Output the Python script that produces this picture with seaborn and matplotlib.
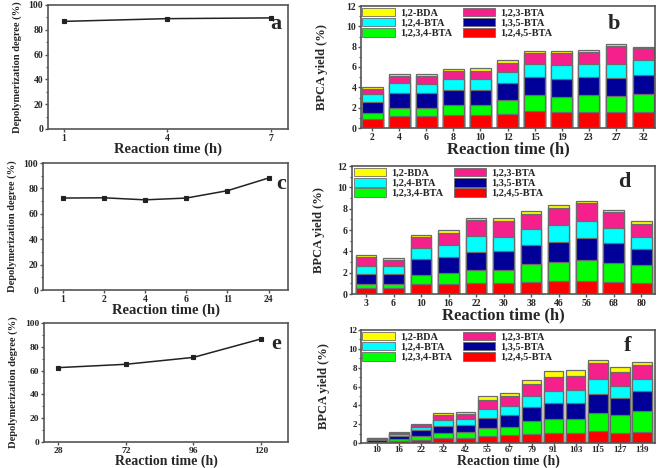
import numpy as np
import pandas as pd
import matplotlib
matplotlib.use("Agg")
import matplotlib.pyplot as plt
import matplotlib.patches as mpatches
from matplotlib.ticker import MultipleLocator
import seaborn as sns

# ---------------- data ----------------
time_a = ["1", "4", "7"]
depol_a = [86.8, 89.0, 89.6]

time_c = ["1", "2", "4", "6", "11", "24"]
depol_c = [72.4, 72.6, 71.0, 72.4, 78.2, 88.2]

time_e = ["28", "72", "96", "120"]
depol_e = [62.5, 65.3, 71.1, 86.6]

series_names = ["1,2,4,5-BTA", "1,2,3,4-BTA", "1,3,5-BTA", "1,2,4-BTA", "1,2,3-BTA", "1,2-BDA"]
series_colors = ["#FF0000", "#00FF00", "#000099", "#00FFFF", "#F5208C", "#FFFF00"]

time_b = ["2", "4", "6", "8", "10", "12", "15", "19", "23", "27", "32"]
b_1245 = [0.85, 1.15, 1.15, 1.25, 1.25, 1.40, 1.70, 1.60, 1.60, 1.55, 1.55]
b_1234 = [0.60, 0.80, 0.85, 1.00, 1.05, 1.35, 1.55, 1.45, 1.65, 1.55, 1.80]
b_135 = [1.15, 1.45, 1.40, 1.45, 1.45, 1.65, 1.80, 1.80, 1.75, 1.80, 1.90]
b_124 = [0.75, 1.00, 0.95, 1.10, 1.10, 1.15, 1.25, 1.30, 1.30, 1.40, 1.40]
b_123 = [0.50, 0.70, 0.75, 0.80, 0.75, 0.85, 1.05, 1.25, 1.15, 1.75, 1.20]
b_12 = [0.15, 0.25, 0.25, 0.25, 0.30, 0.25, 0.20, 0.20, 0.25, 0.20, 0.15]

time_d = ["3", "6", "10", "16", "22", "30", "38", "46", "56", "68", "80"]
d_1245 = [0.55, 0.55, 0.90, 0.95, 1.05, 1.05, 1.15, 1.20, 1.20, 1.10, 1.00]
d_1234 = [0.40, 0.40, 0.90, 1.00, 1.20, 1.20, 1.65, 1.80, 2.00, 1.85, 1.70]
d_135 = [0.95, 0.95, 1.45, 1.55, 1.70, 1.75, 1.80, 1.85, 2.05, 1.85, 1.55]
d_124 = [0.75, 0.75, 1.05, 1.10, 1.45, 1.35, 1.45, 1.60, 1.55, 1.35, 1.05]
d_123 = [0.85, 0.55, 1.05, 1.15, 1.50, 1.50, 1.45, 1.60, 1.75, 1.55, 1.25]
d_12 = [0.12, 0.15, 0.20, 0.25, 0.25, 0.30, 0.30, 0.30, 0.20, 0.20, 0.25]

time_f = ["10", "16", "22", "32", "42", "55", "67", "79", "91", "103", "115", "127", "139"]
f_1245 = [0.03, 0.20, 0.35, 0.50, 0.55, 0.70, 0.80, 0.95, 1.05, 1.10, 1.25, 1.10, 1.15]
f_1234 = [0.05, 0.20, 0.40, 0.55, 0.60, 0.85, 0.95, 1.35, 1.50, 1.50, 1.95, 1.85, 2.25]
f_135 = [0.22, 0.35, 0.60, 0.80, 0.80, 1.15, 1.20, 1.50, 1.70, 1.70, 2.00, 1.80, 2.10]
f_124 = [0.10, 0.20, 0.40, 0.60, 0.60, 0.95, 1.00, 1.15, 1.30, 1.35, 1.55, 1.30, 1.30]
f_123 = [0.12, 0.10, 0.20, 0.50, 0.55, 0.95, 1.00, 1.35, 1.45, 1.45, 1.70, 1.50, 1.50]
f_12 = [0.03, 0.10, 0.10, 0.20, 0.20, 0.40, 0.40, 0.40, 0.60, 0.60, 0.40, 0.55, 0.30]

# ---------------- style ----------------
sns.set_style("ticks")
plt.rcParams["font.family"] = ["Liberation Serif", "DejaVu Serif"]
plt.rcParams["font.weight"] = "bold"
plt.rcParams["axes.labelweight"] = "bold"

W, H = 661, 468
fig = plt.figure(figsize=(W / 100, H / 100), dpi=100)


def add_ax(l, r, t, b):
    return fig.add_axes([l / W, 1 - b / H, (r - l) / W, (b - t) / H])


SPINE = "#555555"


def style_axes(ax, labelsize, ticklen, pad):
    for s in ax.spines.values():
        s.set_color(SPINE)
        s.set_linewidth(1.2)
    ax.tick_params(axis="both", which="major", direction="out", length=ticklen, width=1,
                   color=SPINE, labelsize=labelsize, pad=pad)
    ax.tick_params(axis="both", which="minor", direction="out", length=1.8, width=0.8, color=SPINE)
    ax.tick_params(axis="x", which="minor", bottom=False)
    for lab in ax.get_xticklabels() + ax.get_yticklabels():
        lab.set_fontweight("bold")


def line_panel(ax, times, vals, xlim, letter, letter_xy, ylab_x, xlab_y, xlab_size, tsize):
    df = pd.DataFrame({"t": times, "v": vals})
    sns.pointplot(data=df, x="t", y="v", order=times, color="#222222", markers="s",
                  markersize=3.2, linewidth=1.1, ax=ax)
    ax.set_ylim(0, 100)
    ax.set_xlim(*xlim)
    ax.yaxis.set_major_locator(MultipleLocator(20))
    ax.yaxis.set_minor_locator(MultipleLocator(10))
    style_axes(ax, tsize, 2.5, 1)
    ax.set_ylabel("Depolymerization degree (%)", fontsize=7.6, fontweight="bold")
    ax.yaxis.set_label_coords(ylab_x, 0.5)
    ax.set_xlabel("Reaction time (h)", fontsize=xlab_size, fontweight="bold")
    ax.xaxis.set_label_coords(0.5, xlab_y)
    ax.text(*letter_xy, letter, transform=ax.transAxes, fontsize=16, fontweight="bold",
            ha="center", va="center")


def bar_panel(ax, times, comps, width, xlim, letter, letter_xy, ylab_x, xlab_y, xlab_size,
              tsize, tlen, tpad):
    cum = np.cumsum(np.array(comps), axis=0)
    for i in range(len(comps) - 1, -1, -1):
        df = pd.DataFrame({"t": times, "v": cum[i]})
        sns.barplot(data=df, x="t", y="v", order=times, color=series_colors[i],
                    saturation=1, width=width, edgecolor="#6b6b6b", linewidth=0.9, ax=ax)
    ax.set_ylim(0, 12)
    ax.set_xlim(*xlim)
    ax.yaxis.set_major_locator(MultipleLocator(2))
    ax.yaxis.set_minor_locator(MultipleLocator(1))
    style_axes(ax, tsize, tlen, tpad)
    ax.set_ylabel("BPCA yield (%)", fontsize=9, fontweight="bold")
    ax.yaxis.set_label_coords(ylab_x, 0.5)
    ax.set_xlabel("Reaction time (h)", fontsize=xlab_size, fontweight="bold")
    ax.xaxis.set_label_coords(0.5, xlab_y)
    order = [5, 3, 1, 4, 2, 0]
    handles = [mpatches.Patch(facecolor=series_colors[i], edgecolor="#6b6b6b", linewidth=0.6)
               for i in order]
    labels = [series_names[i] for i in order]
    ax.legend(handles, labels, ncol=2, loc="upper left", bbox_to_anchor=(0.005, 0.985),
              frameon=False, prop={"family": "Liberation Serif", "weight": "bold", "size": 7.5},
              handlelength=3.1, handleheight=0.85, labelspacing=0.05, columnspacing=1.0,
              handletextpad=0.5, borderpad=0, borderaxespad=0)
    ax.text(*letter_xy, letter, transform=ax.transAxes, fontsize=16, fontweight="bold",
            ha="center", va="center")


ax_a = add_ax(48, 288, 5, 129)
line_panel(ax_a, time_a, depol_a, (-0.155, 2.165), "a", ((276 - 48) / 240, 1 - (24 - 5) / 124),
           -0.108, -(142.5 - 129) / 124, 10.5, 7)

ax_c = add_ax(43, 288, 163, 290)
line_panel(ax_c, time_c, depol_c, (-0.48, 5.47), "c", ((281 - 43) / 245, 1 - (184 - 163) / 127),
           -0.106, -(303.5 - 290) / 127, 10.5, 7)

ax_e = add_ax(44, 288, 323, 442)
line_panel(ax_e, time_e, depol_e, (-0.21, 3.40), "e", ((276 - 44) / 244, 1 - (344 - 323) / 119),
           -0.107, -(454.5 - 442) / 119, 10, 6.8)

ax_b = add_ax(361, 655, 6, 128)
bar_panel(ax_b, time_b, [b_1245, b_1234, b_135, b_124, b_123, b_12], 0.77,
          (-0.41, 10.44), "b", ((614 - 361) / 294, 1 - (24 - 6) / 122), -0.112,
          -(141.5 - 128) / 122, 12, 7, 2.5, 1)

ax_d = add_ax(352, 655, 166, 294)
bar_panel(ax_d, time_d, [d_1245, d_1234, d_135, d_124, d_123, d_12], 0.75,
          (-0.51, 10.50), "d", ((624 - 352) / 303, 1 - (182 - 166) / 128), -0.089,
          -(307.5 - 294) / 128, 12, 7, 2.5, 1)

ax_f = add_ax(361, 655, 330, 443)
bar_panel(ax_f, time_f, [f_1245, f_1234, f_135, f_124, f_123, f_12], 0.88,
          (-0.72, 12.59), "f", ((628 - 361) / 294, 1 - (346 - 330) / 113), -0.105,
          -(454.5 - 443) / 113, 10, 6.5, 2, 0.5)

fig.savefig("out.png", dpi=100)
